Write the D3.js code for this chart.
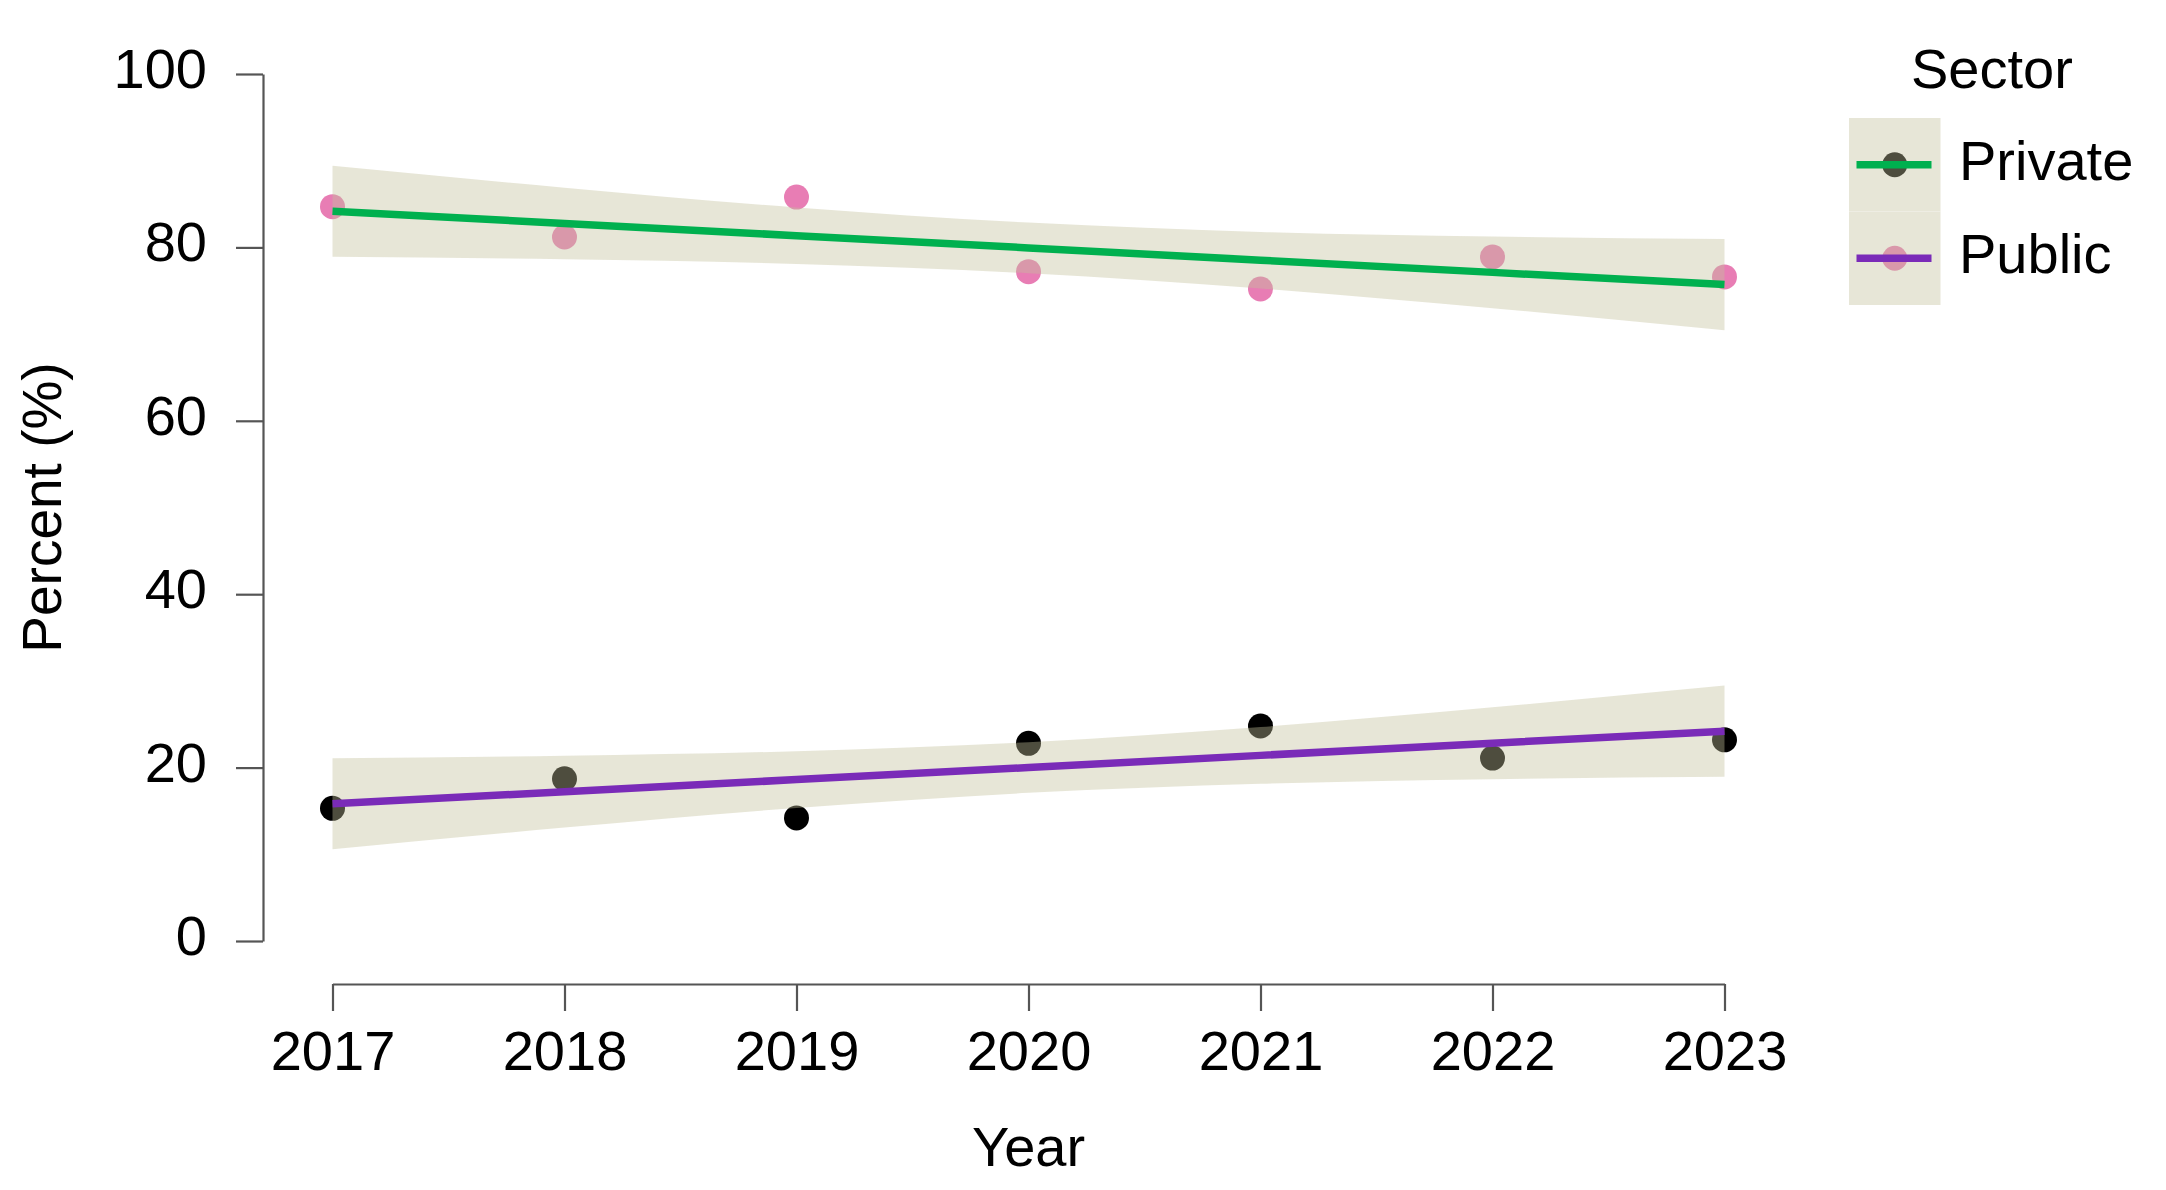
<!DOCTYPE html>
<html>
<head>
<meta charset="utf-8">
<script src="https://cdn.jsdelivr.net/npm/d3@7"></script>
<style>
  html, body { margin: 0; padding: 0; background: #ffffff; }
  svg { display: block; }
  text { font-family: "Liberation Sans", Arial, sans-serif; fill: #000; }
</style>
</head>
<body>
<svg id="chart" width="2166" height="1190"></svg>
<script>
// ---- data ----
const years = [2017, 2018, 2019, 2020, 2021, 2022, 2023];
const privatePct = [15.3, 18.7, 14.2, 22.8, 24.8, 21.1, 23.2];
const publicPct  = [84.7, 81.2, 85.8, 77.2, 75.2, 78.9, 76.6];

// fitted trend + confidence band, read at each year
const privateTrend  = [15.83, 17.22, 18.62, 20.01, 21.41, 22.81, 24.20];
const privateBandHi = [21.09, 21.36, 21.89, 22.93, 24.68, 26.95, 29.46];
const privateBandLo = [10.57, 13.08, 15.35, 17.09, 18.14, 18.67, 18.94];
const publicTrend   = [84.17, 82.76, 81.35, 79.94, 78.53, 77.12, 75.71];
const publicBandHi  = [89.43, 86.89, 84.61, 82.86, 81.79, 81.25, 80.97];
const publicBandLo  = [78.91, 78.63, 78.09, 77.02, 75.27, 72.99, 70.45];

const yTicks = [0, 20, 40, 60, 80, 100];
const legendTitle = "Sector";
const legendLabels = ["Private", "Public"];
const xTitle = "Year";
const yTitle = "Percent (%)";

// ---- styles ----
const GREEN = "#00b04f";
const PURPLE = "#7a2bb8";
const PINK = "#e87db4";
const DARK = "#000000";
const BAND_FILL = "#c4c09b";
const BAND_OPACITY = 0.4;
const AXIS = "#555555";
const LINE_W = 7.5;

// In the picture the green fit runs through the Public points and the purple
// fit through the Private points, while the legend pairs them the other way.
const legendLine = { Private: GREEN, Public: PURPLE };
const legendDot  = { Private: DARK,  Public: PINK };

const svg = d3.select("#chart");

const x = d3.scaleLinear().domain([2017, 2023]).range([332.5, 1724.5]);
const y = d3.scaleLinear().domain([0, 100]).range([941, 74]);

const pointSets = [
  { vals: publicPct,  color: PINK },
  { vals: privatePct, color: DARK }
];
const fits = [
  { trend: publicTrend,  hi: publicBandHi,  lo: publicBandLo,  color: GREEN },
  { trend: privateTrend, hi: privateBandHi, lo: privateBandLo, color: PURPLE }
];

// points (drawn first, the ribbons sit above them)
pointSets.forEach(s => {
  svg.append("g").selectAll("circle")
    .data(years.map((yr, i) => ({ yr, v: s.vals[i] })))
    .join("circle")
    .attr("cx", d => x(d.yr))
    .attr("cy", d => y(d.v))
    .attr("r", 12.5)
    .attr("fill", s.color);
});

// ribbons
const area = d3.area()
  .x(d => x(d.yr))
  .y0(d => y(d.lo))
  .y1(d => y(d.hi))
  .curve(d3.curveMonotoneX);
fits.forEach(f => {
  svg.append("path")
    .datum(years.map((yr, i) => ({ yr, lo: f.lo[i], hi: f.hi[i] })))
    .attr("d", area)
    .attr("fill", BAND_FILL)
    .attr("fill-opacity", BAND_OPACITY);
});

// trend lines
const line = d3.line().x(d => x(d.yr)).y(d => y(d.v));
fits.forEach(f => {
  svg.append("path")
    .datum(years.map((yr, i) => ({ yr, v: f.trend[i] })))
    .attr("d", line)
    .attr("fill", "none")
    .attr("stroke", f.color)
    .attr("stroke-width", LINE_W);
});

// y axis
const yAxis = svg.append("g")
  .attr("transform", "translate(263,0)")
  .call(d3.axisLeft(y).tickValues(yTicks).tickSize(27).tickSizeOuter(0).tickFormat(d3.format("d")));
yAxis.select(".domain").attr("stroke", AXIS).attr("stroke-width", 2.2);
yAxis.selectAll(".tick line").attr("stroke", AXIS).attr("stroke-width", 2.2);
yAxis.selectAll(".tick text")
  .attr("x", -56)
  .attr("y", 13.5)
  .attr("dy", null)
  .style("font-size", "56px")
  .style("font-family", "'Liberation Sans', Arial, sans-serif")
  .attr("fill", "#000");

// x axis
const xAxis = svg.append("g")
  .attr("transform", "translate(0,984)")
  .call(d3.axisBottom(x).tickValues(years).tickSize(27).tickSizeOuter(0).tickFormat(d3.format("d")));
xAxis.select(".domain").attr("stroke", AXIS).attr("stroke-width", 2.2);
xAxis.selectAll(".tick line").attr("stroke", AXIS).attr("stroke-width", 2.2);
xAxis.selectAll(".tick text")
  .attr("y", 86)
  .attr("dy", null)
  .style("font-size", "56px")
  .style("font-family", "'Liberation Sans', Arial, sans-serif")
  .attr("fill", "#000");

// axis titles
svg.append("text")
  .attr("x", (x(2017) + x(2023)) / 2)
  .attr("y", 1166)
  .attr("text-anchor", "middle")
  .style("font-size", "56px")
  .text(xTitle);

svg.append("text")
  .attr("transform", `translate(61,${(y(0) + y(100)) / 2}) rotate(-90)`)
  .attr("text-anchor", "middle")
  .style("font-size", "55px")
  .text(yTitle);

// legend
const lg = svg.append("g");
lg.append("text")
  .attr("x", 1911)
  .attr("y", 88)
  .style("font-size", "56px")
  .text(legendTitle);

const keyX0 = 1849, keyW = 91.5, keyY0 = 118, keyH = 93.5;
legendLabels.forEach((name, i) => {
  const top = keyY0 + i * keyH;
  const cy = top + keyH / 2;
  lg.append("rect").attr("x", keyX0).attr("y", top).attr("width", keyW).attr("height", keyH).attr("fill", "#ffffff");
  lg.append("circle").attr("cx", keyX0 + keyW / 2).attr("cy", cy).attr("r", 12.5).attr("fill", legendDot[name]);
  lg.append("rect").attr("x", keyX0).attr("y", top).attr("width", keyW).attr("height", keyH)
    .attr("fill", BAND_FILL).attr("fill-opacity", BAND_OPACITY);
  lg.append("line")
    .attr("x1", keyX0 + 7.5).attr("x2", keyX0 + keyW - 9)
    .attr("y1", cy).attr("y2", cy)
    .attr("stroke", legendLine[name]).attr("stroke-width", LINE_W);
  lg.append("text")
    .attr("x", 1959)
    .attr("y", cy + 15)
    .style("font-size", "56px")
    .text(name);
});
</script>
</body>
</html>
